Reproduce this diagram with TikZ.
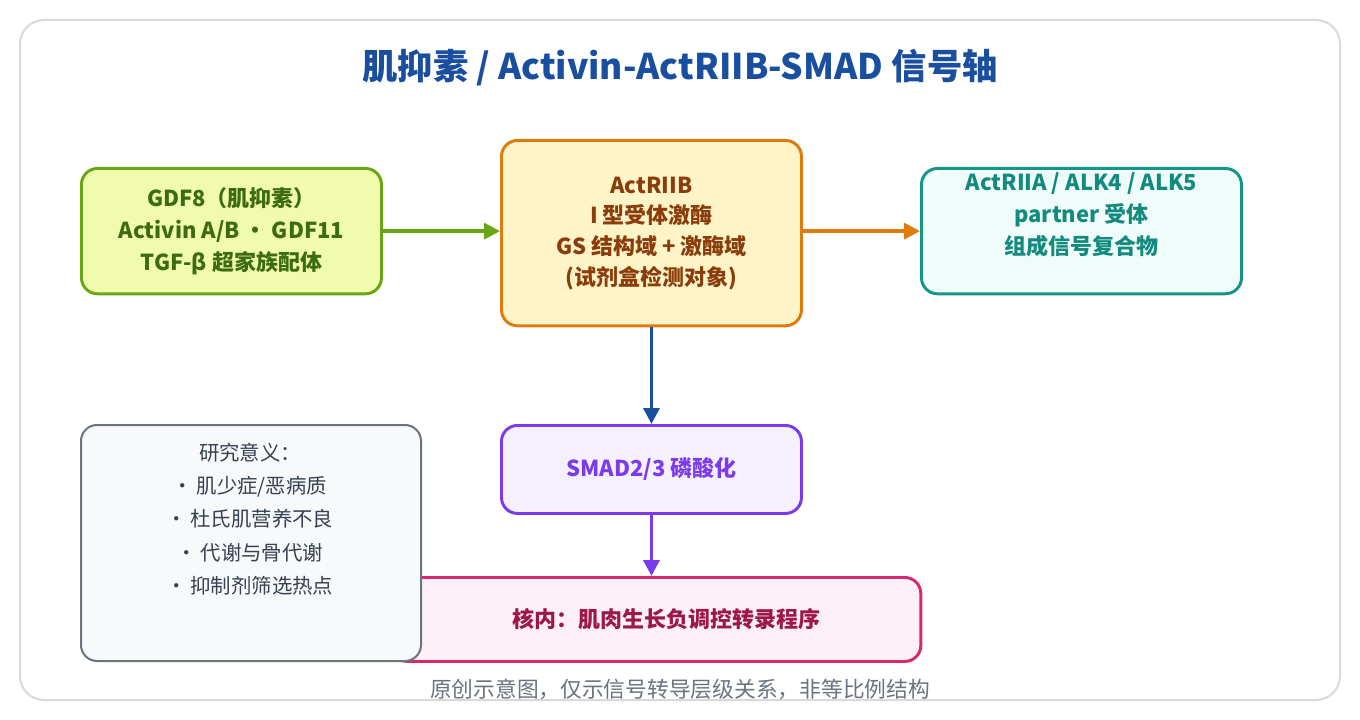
\documentclass[tikz,border=0pt]{standalone}
\usepackage{fontspec}
\setmainfont{Noto Sans CJK SC}
\usetikzlibrary{arrows.meta}
\definecolor{gB}{HTML}{6AA516}\definecolor{gF}{HTML}{F0FBB0}\definecolor{gT}{HTML}{3D6B0F}
\definecolor{oB}{HTML}{DE7B0C}\definecolor{oF}{HTML}{FFF3C8}\definecolor{oT}{HTML}{8A3C0A}
\definecolor{tB}{HTML}{159488}\definecolor{tF}{HTML}{EFFCF9}\definecolor{tT}{HTML}{128A7E}
\definecolor{pB}{HTML}{7C3AED}\definecolor{pF}{HTML}{F4F0FE}
\definecolor{kB}{HTML}{D6286E}\definecolor{kF}{HTML}{FDF0F6}\definecolor{kT}{HTML}{9D1748}
\definecolor{yB}{HTML}{6B7280}\definecolor{yF}{HTML}{F8F9FB}\definecolor{yT}{HTML}{374151}
\definecolor{bl}{HTML}{1A4FA0}
\tikzset{
 box/.style={draw, line width=2.2pt, rounded corners=12pt, align=center, anchor=north west, inner sep=0pt, font=\fontsize{16.5}{24}\selectfont\bfseries},
 arr/.style={line width=2.5pt, -{Triangle[length=12pt,width=12pt]}}
}
\begin{document}
\begin{tikzpicture}[x=0.75pt,y=-0.75pt]
\useasboundingbox (0,0) rectangle (1360,720);
\fill[white] (0,0) rectangle (1360,720);
\draw[line width=1.5pt, draw=gray!30, rounded corners=18pt] (20,20) rectangle (1340,700);
\node[font=\fontsize{26.5}{30}\selectfont\bfseries, text=bl] (title) at (680,68) {肌抑素 / Activin-ActRIIB-SMAD 信号轴};
\node[box, draw=gB, fill=gF, text=gT, minimum width=225pt, minimum height=94pt] (a) at (80,167) {GDF8（肌抑素）\\Activin A/B • GDF11\\TGF-β 超家族配体};
\node[box, draw=oB, fill=oF, text=oT, minimum width=225pt, minimum height=139pt, font=\fontsize{16.5}{23}\selectfont\bfseries] (b) at (500,139) {ActRIIB\\I 型受体激酶\\GS 结构域 + 激酶域\\(试剂盒检测对象)};
\node[box, draw=tB, fill=tF, text=tT, minimum width=240pt, minimum height=94pt] (c) at (920,167) {ActRIIA / ALK4 / ALK5\\partner 受体\\组成信号复合物\\[3pt]};
\node[box, draw=pB, fill=pF, text=pB, minimum width=225pt, minimum height=66pt] (d) at (500,424) {SMAD2/3 磷酸化};
\node[box, draw=kB, fill=kF, text=kT, minimum width=397pt, minimum height=63pt] (e) at (390,576) {\hspace{15pt}核内：肌肉生长负调控转录程序};
\node[box, draw=yB, fill=yF, line width=1.5pt, minimum width=255pt, minimum height=177pt] (f) at (80,424) {};
\node[text=yT, font=\fontsize{15.3}{25}\selectfont, align=center, anchor=north] (ft) at (250,438) {研究意义：\\·\,肌少症/恶病质\\·\,杜氏肌营养不良\\·\,代谢与骨代谢\\·\,抑制剂筛选热点};
\node[text=yB, font=\fontsize{16.3}{18}\selectfont] (foot) at (680,689) {原创示意图，仅示信号转导层级关系，非等比例结构};
\draw[arr, draw=gB, color=gB] (a.east) -- (b.west |- a.east);
\draw[arr, draw=oB, color=oB] (b.east |- c.west) -- (c.west);
\draw[arr, draw=bl, color=bl] (b.south) -- (d.north);
\draw[arr, draw=pB, color=pB] (d.south) -- (d.south |- e.north);
\end{tikzpicture}
\end{document}
